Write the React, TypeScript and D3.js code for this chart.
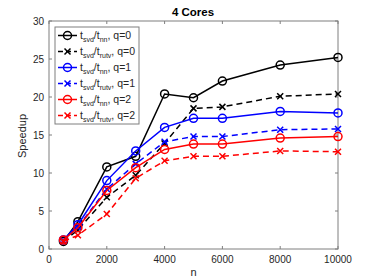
import React from "react";
import * as d3 from "d3";

const nValues = [500, 1000, 2000, 3000, 4000, 5000, 6000, 8000, 10000];
const blackNN = [1.0, 3.6, 10.8, 12.2, 20.4, 19.9, 22.1, 24.2, 25.2];
const blackRUTV = [1.0, 2.5, 6.8, 9.7, 13.9, 18.5, 18.7, 20.1, 20.4];
const blueNN = [1.2, 3.2, 9.0, 12.9, 16.0, 17.2, 17.2, 18.1, 17.9];
const blueRUTV = [1.1, 2.9, 7.9, 11.2, 14.1, 14.8, 14.8, 15.7, 15.8];
const redNN = [1.2, 2.8, 7.7, 10.7, 13.1, 13.8, 13.8, 14.6, 14.8];
const redRUTV = [1.0, 1.8, 4.6, 9.3, 11.6, 12.2, 12.2, 12.9, 12.8];

const xTicks = [0, 2000, 4000, 6000, 8000, 10000];
const yTicks = [0, 5, 10, 15, 20, 25, 30];

const series = [
  { values: blackNN, color: "#000000", dashed: false, marker: "o", sub: "nn", q: 0 },
  { values: blackRUTV, color: "#000000", dashed: true, marker: "x", sub: "rutv", q: 0 },
  { values: blueNN, color: "#0000ff", dashed: false, marker: "o", sub: "nn", q: 1 },
  { values: blueRUTV, color: "#0000ff", dashed: true, marker: "x", sub: "rutv", q: 1 },
  { values: redNN, color: "#ff0000", dashed: false, marker: "o", sub: "nn", q: 2 },
  { values: redRUTV, color: "#ff0000", dashed: true, marker: "x", sub: "rutv", q: 2 },
];

const W = 374;
const H = 280;
const L = 49, R = 338, T = 21, B = 249;
const font = "'Liberation Sans', Arial, Helvetica, sans-serif";
const axisColor = "#7f7f7f";
const textColor = "#262626";

function Marker({ type, x, y, color }: { type: string; x: number; y: number; color: string }) {
  if (type === "o") {
    return <circle cx={x} cy={y} r={4} fill="none" stroke={color} strokeWidth={1.5} />;
  }
  const s = 3;
  return (
    <path
      d={`M${x - s},${y - s}L${x + s},${y + s}M${x - s},${y + s}L${x + s},${y - s}`}
      stroke={color}
      strokeWidth={1.5}
      fill="none"
    />
  );
}

export default function App() {
  const x = d3.scaleLinear().domain([0, 10000]).range([L, R]);
  const y = d3.scaleLinear().domain([0, 30]).range([B, T]);
  const line = d3
    .line<number>()
    .x((_, i) => x(nValues[i]))
    .y((d) => y(d));

  const legX = 55, legY = 27, legW = 84, legH = 97;
  const rowY0 = 35.5, rowDy = 16;

  return (
    <svg width={W} height={H} style={{ position: "absolute", left: 0, top: 0 }} fontFamily={font}>
      <rect x={0} y={0} width={W} height={H} fill="#ffffff" />
      <rect x={L} y={T} width={R - L} height={B - T} fill="none" stroke={axisColor} strokeWidth={1} />
      {xTicks.map((t) => (
        <g key={"xt" + t}>
          <line x1={x(t)} x2={x(t)} y1={B} y2={B - 3} stroke={axisColor} />
          <line x1={x(t)} x2={x(t)} y1={T} y2={T + 3} stroke={axisColor} />
          <text x={x(t)} y={B + 14} fontSize={10} textAnchor="middle" fill={textColor}>
            {t}
          </text>
        </g>
      ))}
      {yTicks.map((t) => (
        <g key={"yt" + t}>
          <line x1={L} x2={L + 3} y1={y(t)} y2={y(t)} stroke={axisColor} />
          <line x1={R} x2={R - 3} y1={y(t)} y2={y(t)} stroke={axisColor} />
          <text x={L - 5} y={y(t) + 3.5} fontSize={10} textAnchor="end" fill={textColor}>
            {t}
          </text>
        </g>
      ))}
      <text x={(L + R) / 2} y={276} fontSize={11} textAnchor="middle" fill={textColor}>
        n
      </text>
      <text
        transform={`translate(26,${(T + B) / 2 + 1}) rotate(-90)`}
        fontSize={11}
        textAnchor="middle"
        fill={textColor}
      >
        Speedup
      </text>
      <text x={193} y={16} fontSize={11.5} fontWeight="bold" textAnchor="middle" fill="#000">
        4 Cores
      </text>
      {series.map((s, si) => (
        <g key={"s" + si}>
          <path
            d={line(s.values) || ""}
            fill="none"
            stroke={s.color}
            strokeWidth={1.5}
            strokeDasharray={s.dashed ? "6,4" : undefined}
          />
          {s.values.map((v, i) => (
            <Marker key={i} type={s.marker} x={x(nValues[i])} y={y(v)} color={s.color} />
          ))}
        </g>
      ))}
      <rect x={legX} y={legY} width={legW} height={legH} fill="#ffffff" stroke={axisColor} strokeWidth={1} />
      {series.map((s, si) => {
        const ry = rowY0 + si * rowDy;
        return (
          <g key={"l" + si}>
            <line
              x1={58}
              x2={77}
              y1={ry}
              y2={ry}
              stroke={s.color}
              strokeWidth={1.5}
              strokeDasharray={s.dashed ? "5,3" : undefined}
            />
            <Marker type={s.marker} x={67.5} y={ry} color={s.color} />
            <text x={80} y={ry + 3.5} fontSize={10.5} fill={textColor}>
              <tspan>t</tspan>
              <tspan fontSize={7} dy={2.5}>svd</tspan>
              <tspan dy={-2.5}>/t</tspan>
              <tspan fontSize={7} dy={2.5}>{s.sub}</tspan>
              <tspan dy={-2.5}>{`, q=${s.q}`}</tspan>
            </text>
          </g>
        );
      })}
    </svg>
  );
}
